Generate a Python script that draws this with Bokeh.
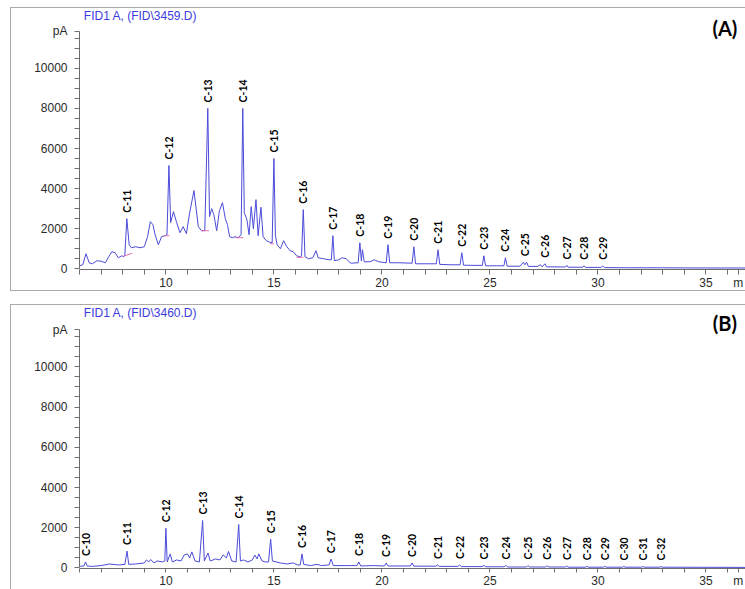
import math
from bokeh.plotting import figure
from bokeh.layouts import column
from bokeh.models import Range1d, FixedTicker, Label, ColumnDataSource
from bokeh.core.properties import value
from bokeh.embed import file_html
from bokeh.resources import INLINE

# ---------------- Panel A: FID1 A, (FID\3459.D) ----------------
time_a = [6.00, 6.15, 6.30, 6.45, 6.60, 6.80, 7.00, 7.20, 7.35, 7.50, 7.65, 7.80, 7.95, 8.05,
          8.10, 8.19, 8.30, 8.40, 8.60, 8.80, 9.00, 9.15, 9.28, 9.40, 9.50, 9.65, 9.80, 9.95,
          10.05, 10.14, 10.22, 10.35, 10.50, 10.65, 10.80, 10.95, 11.10, 11.30, 11.50, 11.65,
          11.80, 11.94, 12.02, 12.12, 12.22, 12.35, 12.48, 12.62, 12.75, 12.85, 12.95, 13.08,
          13.20, 13.35, 13.48, 13.56, 13.63, 13.75, 13.85, 13.95, 14.05, 14.17, 14.27, 14.40,
          14.50, 14.65, 14.80, 14.92, 15.00, 15.07, 15.15, 15.30, 15.45, 15.60, 15.75, 15.90,
          16.05, 16.20, 16.28, 16.36, 16.44, 16.60, 16.80, 16.95, 17.05, 17.30, 17.55, 17.66,
          17.73, 17.80, 18.00, 18.15, 18.35, 18.55, 18.90, 18.98, 19.05, 19.10, 19.18, 19.45,
          19.65, 19.85, 20.20, 20.28, 20.36, 20.80, 21.40, 21.48, 21.56, 22.10, 22.52, 22.60,
          22.68, 23.20, 23.62, 23.70, 23.78, 24.30, 24.65, 24.72, 24.80, 25.30, 25.65, 25.72,
          25.80, 26.40, 26.55, 26.62, 26.70, 26.78, 27.20, 27.35, 27.42, 27.55, 27.62, 28.50,
          28.56, 28.62, 29.30, 29.36, 29.42, 30.15, 30.22, 30.30, 31.50, 33.00, 35.00, 36.88]
signal_a = [150, 200, 750, 300, 250, 400, 380, 300, 600, 850, 800, 550, 650, 600,
            700, 2500, 1200, 1050, 1100, 1050, 1100, 1600, 2350, 2200, 1700, 1200, 1600, 1650,
            1700, 5150, 2300, 2850, 2300, 1800, 2100, 1750, 2800, 3900, 2100, 1900,
            1900, 8000, 2600, 3000, 2700, 1900, 2900, 3300, 2500, 2200, 1600, 1550,
            1600, 1550, 1700, 8000, 2800, 2450, 1700, 3100, 2000, 3450, 1650, 3070,
            1600, 1400, 1330, 1300, 5500, 1650, 1200, 1000, 1400, 1100, 900, 850,
            650, 600, 650, 2950, 600, 500, 550, 900, 550, 500, 450, 450,
            1650, 400, 450, 550, 500, 280, 300, 1300, 400, 950, 350, 350,
            450, 350, 300, 1200, 300, 300, 280, 1100, 250, 250, 250, 950,
            220, 200, 200, 800, 180, 170, 170, 650, 150, 150, 150, 550,
            130, 130, 330, 200, 330, 120, 120, 200, 100, 250, 100, 90,
            170, 80, 80, 150, 70, 70, 150, 60, 50, 50, 40, 40]
names_a = ["C-11", "C-12", "C-13", "C-14", "C-15", "C-16", "C-17", "C-18", "C-19", "C-20",
           "C-21", "C-22", "C-23", "C-24", "C-25", "C-26", "C-27", "C-28", "C-29"]
peak_t_a = [8.19, 10.14, 11.94, 13.56, 15.00, 16.36, 17.73, 18.98, 20.28, 21.48,
            22.60, 23.70, 24.72, 25.72, 26.62, 27.55, 28.56, 29.36, 30.22]
peak_v_a = [2500, 5150, 8000, 8000, 5500, 2950, 1650, 1300, 1200, 1100,
            950, 800, 650, 550, 330, 250, 170, 150, 150]
# integration baselines (pink)
base_t0_a = [8.02, 9.92, 11.62, 13.22, 14.82, 16.05]
base_t1_a = [8.45, 10.16, 12.00, 13.58, 15.00, 16.36]
base_v0_a = [620, 1650, 1900, 1550, 1250, 570]
base_v1_a = [780, 1650, 1900, 1550, 1250, 570]

# ---------------- Panel B: FID1 A, (FID\3460.D) ----------------
time_b = [6.00, 6.20, 6.28, 6.36, 6.60, 7.00, 7.40, 7.80, 8.10, 8.20, 8.28, 8.60, 9.00, 9.10,
          9.20, 9.30, 9.45, 9.60, 9.85, 9.95, 10.00, 10.06, 10.20, 10.30, 10.50, 10.70, 10.85,
          11.00, 11.10, 11.20, 11.35, 11.55, 11.70, 11.78, 11.95, 12.05, 12.30, 12.50, 12.65,
          12.80, 12.90, 13.05, 13.25, 13.37, 13.45, 13.60, 13.80, 14.00, 14.12, 14.22, 14.30,
          14.45, 14.60, 14.75, 14.85, 14.93, 15.30, 15.60, 15.90, 16.10, 16.22, 16.30, 16.38,
          16.70, 17.00, 17.20, 17.55, 17.65, 17.75, 18.30, 18.85, 18.93, 19.02, 19.60, 20.12,
          20.20, 20.28, 21.32, 21.40, 21.48, 22.50, 22.58, 22.66, 23.52, 23.60, 23.68, 24.64,
          24.72, 24.80, 25.66, 25.74, 25.82, 26.70, 26.76, 26.84, 27.58, 27.64, 27.72, 28.50,
          28.56, 28.62, 29.43, 29.49, 29.55, 30.26, 30.32, 30.38, 31.14, 31.20, 31.26, 32.02,
          32.08, 32.14, 32.86, 32.92, 32.98, 36.88]
signal_b = [80, 100, 300, 100, 80, 120, 200, 150, 180, 840, 180, 200, 250, 400,
            300, 420, 250, 350, 300, 350, 1970, 300, 700, 300, 400, 350, 650,
            700, 500, 800, 350, 300, 2360, 350, 740, 350, 450, 400, 650,
            500, 820, 350, 300, 2160, 350, 400, 300, 400, 640, 450, 700,
            350, 300, 300, 1430, 350, 250, 200, 250, 150, 150, 700, 180,
            120, 180, 120, 150, 440, 120, 120, 120, 300, 100, 120, 100,
            250, 100, 100, 250, 90, 90, 150, 80, 80, 150, 70, 70,
            130, 60, 60, 130, 50, 50, 120, 50, 50, 110, 50, 50,
            100, 40, 40, 90, 40, 40, 90, 40, 40, 80, 40, 40,
            80, 40, 40, 70, 40, 30]
names_b = ["C-10", "C-11", "C-12", "C-13", "C-14", "C-15", "C-16", "C-17", "C-18", "C-19",
           "C-20", "C-21", "C-22", "C-23", "C-24", "C-25", "C-26", "C-27", "C-28", "C-29",
           "C-30", "C-31", "C-32"]
peak_t_b = [6.28, 8.20, 10.00, 11.70, 13.37, 14.85, 16.30, 17.65, 18.93, 20.20,
            21.40, 22.58, 23.60, 24.72, 25.74, 26.76, 27.64, 28.56, 29.49, 30.32,
            31.20, 32.08, 32.92]
peak_v_b = [300, 840, 1970, 2360, 2160, 1430, 700, 440, 300, 250,
            250, 150, 150, 130, 130, 120, 110, 100, 90, 90,
            80, 80, 70]

# axis ticks: labelled ticks plus unlabelled (minor) positions
x_major = [10, 15, 20, 25, 30, 35]
x_unit_pos = 36.5
x_minor = [6, 7, 8, 9, 11, 12, 13, 14, 16, 17, 18, 19, 21, 22, 23, 24, 26, 27, 28, 29,
           31, 32, 33, 34, 36]
y_major = [0, 2000, 4000, 6000, 8000, 10000]
y_unit_pos = 11850
y_minor = [500, 1000, 1500, 2500, 3000, 3500, 4500, 5000, 5500, 6500, 7000, 7500,
           8500, 9000, 9500, 10500, 11000, 11500]

TRACE = "#4b4bd9"
AXIS = "#6e6e6e"
TICKTXT = "#2a2a2a"
BORDER = "1px solid #a9a9a9"


def panel(ts, vs, names, pt, pv, title, tag, height, bottom, y0, y1, title_y, tag_y,
          tick_out, standoff, border_bottom, margin):
    p = figure(width=735, height=height, output_backend="svg", toolbar_location=None,
               x_range=Range1d(6, 36.88), y_range=Range1d(y0, y1),
               min_border_left=68, min_border_right=0, min_border_top=0,
               min_border_bottom=bottom)
    p.margin = margin
    p.outline_line_color = None
    p.grid.visible = False
    p.background_fill_color = "white"
    st = {"border-top": BORDER, "border-left": BORDER}
    if border_bottom:
        st["border-bottom"] = BORDER
    p.styles = st

    p.line(ts, vs, line_color=TRACE, line_width=1)

    src = ColumnDataSource(dict(t=pt, v=pv, name=names))
    p.text(x="t", y="v", text="name", source=src, angle=math.pi / 2, y_offset=-6,
           text_font=value("Lato"), text_font_style="bold", text_font_size="10.5px",
           text_color="black", text_align="left", text_baseline="middle")

    p.add_layout(Label(x=6.2, y=title_y, text=title, text_font="Liberation Sans",
                       text_font_size="12px", text_color="#3c3cdc", text_baseline="middle"))
    p.add_layout(Label(x=35.88, y=tag_y, text=tag, text_font="Lato",
                       text_font_style="bold", text_font_size="20px", text_color="black",
                       text_align="center", text_baseline="middle"))

    xa = p.xaxis[0]
    xa.ticker = FixedTicker(ticks=sorted(x_major + x_minor + [x_unit_pos]))
    xover = {t: "" for t in x_minor}
    xover[x_unit_pos] = "m"
    xa.major_label_overrides = xover
    xa.major_tick_out = tick_out
    xa.major_tick_in = 0
    xa.minor_tick_line_color = None
    xa.major_label_standoff = standoff
    ya = p.yaxis[0]
    ya.ticker = FixedTicker(ticks=sorted(y_major + y_minor + [y_unit_pos]))
    yover = {t: "" for t in y_minor}
    yover[y_unit_pos] = "pA"
    ya.major_label_overrides = yover
    ya.bounds = (0, y_unit_pos)
    ya.major_tick_out = 5
    ya.major_tick_in = 0
    ya.minor_tick_line_color = None
    ya.major_label_standoff = 7
    for ax in (xa, ya):
        ax.axis_line_color = AXIS
        ax.major_tick_line_color = AXIS
        ax.major_label_text_font = "Liberation Sans"
        ax.major_label_text_font_size = "12px"
        ax.major_label_text_color = TICKTXT
    return p


pa = panel(time_a, signal_a, names_a, peak_t_a, peak_v_a, "FID1 A,  (FID\\3459.D)", "(A)",
           284, 20, -35, 12983, 12589, 11997, 5, 1, True, (7, 0, 0, 10))
for t0, t1, v0, v1 in zip(base_t0_a, base_t1_a, base_v0_a, base_v1_a):
    pa.line([t0, t1], [v0, v1], line_color="#e070b0", line_width=1)

pb = panel(time_b, signal_b, names_b, peak_t_b, peak_v_b, "FID1 A,  (FID\\3460.D)", "(B)",
           285, 19, -25, 13046, 12654, 12162, 4, 1, False, (13, 0, 0, 10))

layout = column(pa, pb, spacing=0)
open("out.html", "w").write(file_html(layout, INLINE))
